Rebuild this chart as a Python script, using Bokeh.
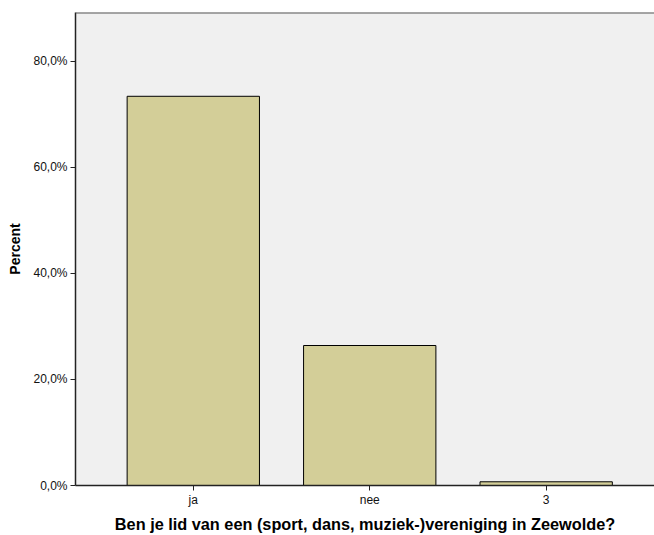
from bokeh.plotting import figure
from bokeh.models import Range1d, FixedTicker, ColumnDataSource, Span
from bokeh.embed import file_html
from bokeh.resources import INLINE

categories = ["ja", "nee", "3"]
percent = [73.4, 26.4, 0.7]
y_ticks = [0, 20, 40, 60, 80]
y_tick_labels = ["0,0%", "20,0%", "40,0%", "60,0%", "80,0%"]

xpos = list(range(len(categories)))
src = ColumnDataSource(dict(x=xpos, top=percent, cat=categories))

p = figure(width=654, height=535, output_backend="svg", toolbar_location=None,
           x_range=Range1d(-0.6676, 2.614), y_range=Range1d(0, 89.2),
           min_border_left=75, min_border_right=0, min_border_top=12, min_border_bottom=49)

p.background_fill_color = "#f0f0f0"
p.border_fill_color = "white"
p.outline_line_color = None
p.grid.visible = False

p.vbar(x="x", top="top", bottom=0, width=0.75, source=src,
       fill_color="#d3ce98", line_color="black", line_width=1)

p.add_layout(Span(location=89.2, dimension="width", line_color="#555555", line_width=2))

p.xaxis.ticker = FixedTicker(ticks=xpos)
p.xaxis.major_label_overrides = {i: c for i, c in zip(xpos, categories)}
p.yaxis.ticker = FixedTicker(ticks=y_ticks)
p.yaxis.major_label_overrides = {t: l for t, l in zip(y_ticks, y_tick_labels)}

for ax in (p.xaxis, p.yaxis):
    ax.axis_line_color = "#222222"
    ax.axis_line_width = 1.5
    ax.major_tick_line_color = "#222222"
    ax.major_tick_in = 0
    ax.major_tick_out = 5
    ax.minor_tick_line_color = None
    ax.major_label_text_font = "Liberation Sans"
    ax.major_label_text_font_size = "12px"
    ax.major_label_text_color = "#111111"
    ax.axis_label_text_font = "Liberation Sans"
    ax.axis_label_text_font_style = "bold"
    ax.axis_label_text_color = "black"

p.xaxis.axis_label = "Ben je lid van een (sport, dans, muziek-)vereniging in Zeewolde?"
p.yaxis.axis_label = "Percent"
p.xaxis.axis_label_text_font_size = "16.3px"
p.yaxis.axis_label_text_font_size = "14px"
p.xaxis.major_label_standoff = 2
p.yaxis.major_label_standoff = 3
p.xaxis.axis_label_standoff = 5
p.yaxis.axis_label_standoff = 7

open("out.html", "w").write(file_html(p, INLINE))
